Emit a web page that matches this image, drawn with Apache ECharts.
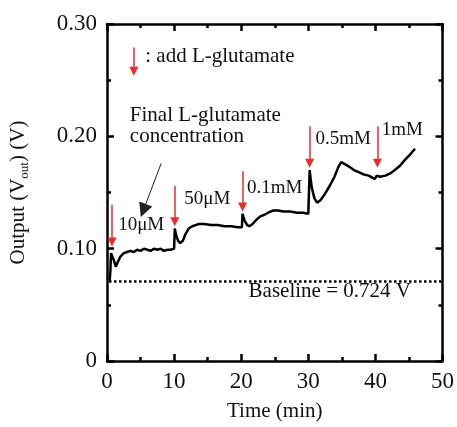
<!DOCTYPE html>
<html lang="en">
<head>
    <meta charset="UTF-8">
    <title>L-glutamate response</title>
    <script src="https://cdn.jsdelivr.net/npm/echarts@6/dist/echarts.min.js"></script>
    <style>
        html, body { margin: 0; padding: 0; background: #fff; }
    </style>
</head>
<body>
    <div id="myChart" style="width: 457px; height: 427px;"></div>
    <script>
        // output voltage trace, [time (min), Vout (V)]
        const signal = [
            [0.4, 0.071], [0.5, 0.080], [0.6, 0.096], [0.8, 0.095], [1.0, 0.090],
            [1.3, 0.084], [1.6, 0.088], [2.0, 0.093], [2.5, 0.096], [3.0, 0.097],
            [3.5, 0.098], [4.0, 0.097], [4.5, 0.099], [5.0, 0.098], [5.5, 0.100],
            [6.0, 0.099], [6.5, 0.098], [7.0, 0.100], [7.5, 0.099], [8.0, 0.100],
            [8.5, 0.098], [9.0, 0.099], [9.5, 0.099], [10.0, 0.100],
            [10.1, 0.118], [10.3, 0.112], [10.6, 0.107], [10.9, 0.105], [11.3, 0.107],
            [11.7, 0.113], [12.2, 0.118], [12.7, 0.120], [13.2, 0.121], [13.7, 0.122],
            [14.5, 0.122], [15.5, 0.121], [16.5, 0.121], [17.5, 0.120], [18.5, 0.120],
            [19.5, 0.119], [20.1, 0.119],
            [20.2, 0.131], [20.5, 0.125], [20.9, 0.121], [21.2, 0.120], [21.7, 0.122],
            [22.3, 0.126], [22.9, 0.129], [23.4, 0.130], [24.0, 0.132], [24.8, 0.134],
            [25.5, 0.134], [26.3, 0.133], [27.3, 0.133], [28.3, 0.132], [29.2, 0.132],
            [30.0, 0.131],
            [30.2, 0.170], [30.5, 0.155], [30.9, 0.145], [31.3, 0.141], [31.8, 0.143],
            [32.5, 0.149], [33.2, 0.156], [33.9, 0.164], [34.5, 0.173], [34.9, 0.177],
            [35.5, 0.175], [36.1, 0.173], [36.8, 0.170], [37.6, 0.168], [38.3, 0.166],
            [39.0, 0.165], [39.6, 0.163], [39.9, 0.162], [40.2, 0.165], [40.7, 0.164],
            [41.5, 0.165], [42.2, 0.167], [42.9, 0.170], [43.7, 0.174], [44.4, 0.179],
            [45.2, 0.184], [45.9, 0.189]
        ];

        const baseline = 0.071;

        // red arrows: [time, top, tip]
        const addArrows = [
            [0.75, 0.139, 0.106],
            [10.1, 0.156, 0.124],
            [20.2, 0.169, 0.137],
            [30.2, 0.209, 0.176],
            [40.3, 0.209, 0.176],
            [4.0, 0.279, 0.258]   // legend arrow
        ];

        // black arrow: [start, tip]
        const pointer = [[8.08, 0.176], [5.41, 0.134]];

        // centred labels
        const concLabels = [
            [5.1, 0.121, '10μM'],
            [14.96, 0.144, '50μM'],
            [25.0, 0.154, '0.1mM'],
            [35.2, 0.198, '0.5mM'],
            [44.0, 0.206, '1mM']
        ];

        // left-aligned labels
        const noteLabels = [
            [5.7, 0.271, ': add L-glutamate'],
            [3.4, 0.219, 'Final L-glutamate'],
            [3.4, 0.200, 'concentration'],
            [21.1, 0.062, 'Baseline = 0.724 V']
        ];

        const xTicks = [0, 10, 20, 30, 40, 50];
        const yTicks = [0, 0.10, 0.20, 0.30];

        const font = 'Liberation Serif';
        const ink = '#111111';
        const red = '#ec2c2c';

        const myChart = echarts.init(document.getElementById('myChart'));

        const axisCommon = {
            axisLine: { show: true, onZero: false, lineStyle: { color: '#000', width: 2.5 } },
            axisTick: { show: true, inside: true, length: 7, lineStyle: { color: '#000', width: 2.5 } },
            minorTick: { show: true, splitNumber: 2, length: 4, lineStyle: { color: '#000', width: 2.5 } },
            splitLine: { show: false }
        };

        const markLines = addArrows.map((a) => [
            { coord: [a[0], a[1]], symbol: 'none' },
            { coord: [a[0], a[2]], symbol: 'triangle', symbolSize: 9,
              lineStyle: { color: red, width: 1.5, type: 'solid' }, itemStyle: { color: red } }
        ]);
        markLines.push([
            { coord: pointer[0], symbol: 'none' },
            { coord: pointer[1], symbol: 'triangle', symbolSize: 14,
              lineStyle: { color: '#222', width: 1, type: 'solid' }, itemStyle: { color: '#000' } }
        ]);
        markLines.push([
            { coord: [0.3, baseline], symbol: 'none' },
            { coord: [50, baseline], symbol: 'none',
              lineStyle: { color: '#000', width: 2.5, type: [2.5, 2.5] } }
        ]);

        const option = {
            animation: false,
            textStyle: { fontFamily: font, color: ink },
            grid: { left: 103, right: 12, top: 24, bottom: 61 },
            xAxis: [
                Object.assign({}, axisCommon, {
                    type: 'value', min: 0, max: 50, interval: 10,
                    name: 'Time (min)', nameLocation: 'middle', nameGap: 40,
                    nameTextStyle: { fontFamily: font, fontSize: 21, color: ink },
                    axisLabel: { fontFamily: font, fontSize: 23, color: ink, margin: 9,
                        formatter: (v) => xTicks.includes(v) ? String(v) : '' }
                }),
                Object.assign({}, axisCommon, {
                    type: 'value', min: 0, max: 50, interval: 10, position: 'top',
                    axisLabel: { show: false }
                })
            ],
            yAxis: [
                Object.assign({}, axisCommon, {
                    type: 'value', min: 0, max: 0.30, interval: 0.10,
                    name: '{a|Output (V}{b|out}{a|) (V)}', nameLocation: 'middle', nameGap: 76,
                    nameTextStyle: {
                        rich: {
                            a: { fontFamily: font, fontSize: 21, color: ink },
                            b: { fontFamily: font, fontSize: 13, color: ink, padding: [12, 0, 0, 0] }
                        }
                    },
                    axisLabel: { fontFamily: font, fontSize: 23, color: ink, margin: 10,
                        formatter: (v) => {
                            const hit = yTicks.find((t) => Math.abs(t - v) < 1e-9);
                            if (hit === undefined) return '';
                            return hit === 0 ? '0' : hit.toFixed(2);
                        } }
                }),
                Object.assign({}, axisCommon, {
                    type: 'value', min: 0, max: 0.30, interval: 0.10, position: 'right',
                    axisLabel: { show: false }
                })
            ],
            series: [
                {
                    name: 'Vout',
                    type: 'line',
                    data: signal,
                    showSymbol: false,
                    lineStyle: { color: '#000', width: 2.5 },
                    markLine: {
                        silent: true,
                        label: { show: false },
                        data: markLines
                    }
                },
                {
                    type: 'scatter',
                    symbolSize: 0,
                    silent: true,
                    itemStyle: { opacity: 1 },
                    data: concLabels.map((d) => ({ value: [d[0], d[1]], name: d[2] })),
                    label: { show: true, position: 'inside', formatter: '{b}',
                        fontFamily: font, fontSize: 19, color: ink }
                },
                {
                    type: 'scatter',
                    symbolSize: 0,
                    silent: true,
                    itemStyle: { opacity: 1 },
                    data: noteLabels.map((d) => ({ value: [d[0], d[1]], name: d[2] })),
                    label: { show: true, position: 'right', distance: 0, formatter: '{b}',
                        fontFamily: font, fontSize: 21, color: ink }
                }
            ]
        };
        myChart.setOption(option);
    </script>
</body>
</html>
